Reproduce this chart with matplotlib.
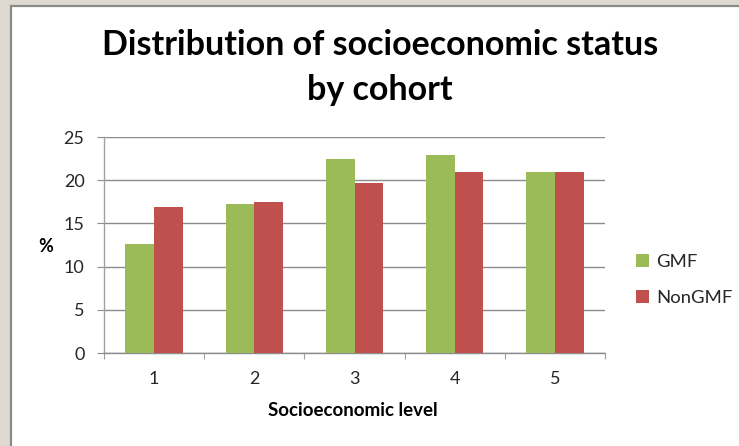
import matplotlib
matplotlib.use("Agg")
import matplotlib.pyplot as plt
from matplotlib.patches import Rectangle
import numpy as np

categories = ["1", "2", "3", "4", "5"]
gmf = [12.6, 17.3, 22.4, 22.9, 20.9]
nongmf = [16.9, 17.5, 19.7, 21.0, 20.9]
series_names = ["GMF", "NonGMF"]
y_ticks = [0, 5, 10, 15, 20, 25]

W, H = 739, 446
plt.rcParams['font.family'] = ['Lato', 'DejaVu Sans']
fig = plt.figure(figsize=(W/100, H/100), dpi=100)
fig.patch.set_facecolor('#dfdad1')
fig.patches.append(Rectangle((10.5/W, -0.01), 1, (H-6)/H + 0.01, transform=fig.transFigure,
                             facecolor='white', edgecolor='#8a8a8a', linewidth=1.6, zorder=-5))

ax = fig.add_axes([104/W, (H-353)/H, (605-104)/W, (353-137)/H], zorder=2)
ax.set_facecolor('none')
x = np.arange(1, len(categories)+1)
bw = 1/3.5
green = '#9BBB59'
red = '#C0504D'
b1 = ax.bar(x - bw/2, gmf, width=bw, color=green, zorder=3, label=series_names[0])
b2 = ax.bar(x + bw/2, nongmf, width=bw, color=red, zorder=3, label=series_names[1])

ax.set_xlim(0.5, 5.5)
ax.set_ylim(0, 25)
ax.set_yticks(y_ticks)
ax.set_yticklabels([str(v) for v in y_ticks])
ax.yaxis.grid(True, color='#8c8c8c', linewidth=1.0, zorder=0)
ax.set_axisbelow(True)
for s in ['top', 'right']:
    ax.spines[s].set_visible(False)
ax.spines['left'].set_color('#a0a0a0')
ax.spines['bottom'].set_color('#8c8c8c')
ax.spines['left'].set_linewidth(1.0)
ax.spines['bottom'].set_linewidth(1.0)

ax.set_xticks(np.arange(0.5, 6.0, 1.0))
ax.set_xticklabels([])
ax.set_xticks(x, minor=True)
ax.set_xticklabels(categories, minor=True)
ax.tick_params(axis='x', which='major', length=4, color='#a0a0a0', direction='out')
ax.tick_params(axis='x', which='minor', length=0, pad=13, labelsize=13, labelcolor='#262626')
ax.tick_params(axis='y', length=5, color='#8c8c8c', direction='out', pad=9, labelsize=13, labelcolor='#262626')

fig.text(380/W, 1-55/H, "Distribution of socioeconomic status", ha='center', va='baseline',
         fontsize=24.5, fontweight='bold', color='black')
fig.text(380/W, 1-100/H, "by cohort", ha='center', va='baseline',
         fontsize=24.5, fontweight='bold', color='black')
fig.text(46/W, 1-246/H, "%", ha='center', va='center', fontsize=13, fontweight='bold', color='black')
fig.text(353/W, 1-411/H, "Socioeconomic level", ha='center', va='center', fontsize=13.5,
         fontweight='bold', color='black')

fig.legend(handles=[b1, b2], labels=series_names, loc='upper left',
           bbox_to_anchor=(636/W, 1-254/H), frameon=False, borderpad=0, borderaxespad=0,
           handlelength=0.7, handleheight=0.7,
           handletextpad=0.4, labelspacing=1.1, fontsize=13.3, labelcolor='#262626')

fig.savefig("out.png", dpi=100, facecolor=fig.get_facecolor())
